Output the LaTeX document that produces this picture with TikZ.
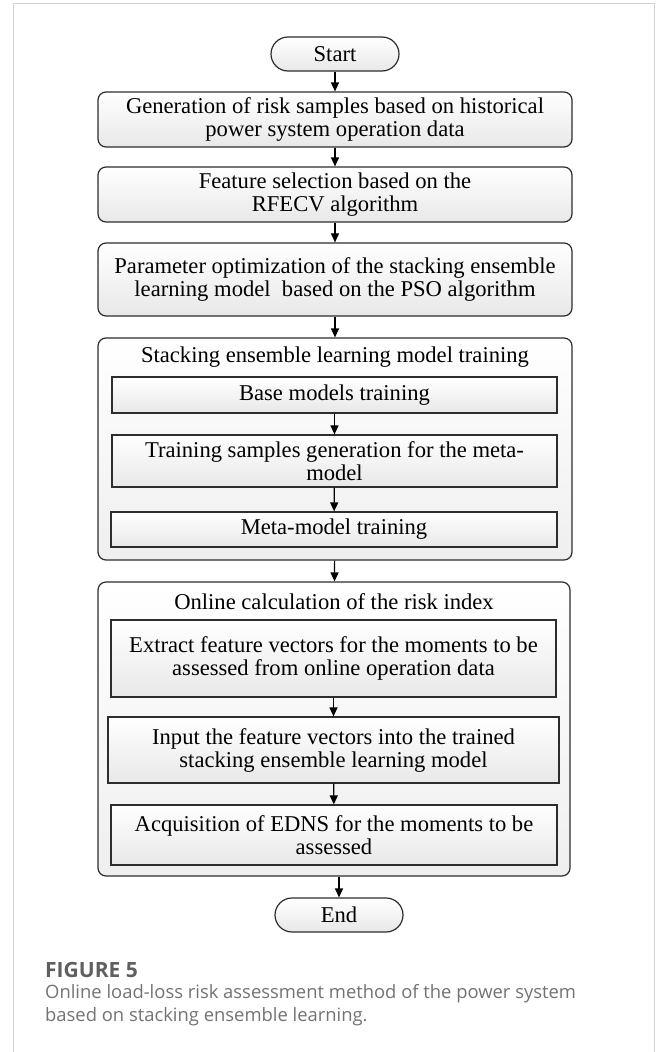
\documentclass[tikz,border=0pt]{standalone}
\usepackage{fontspec}
\setmainfont{Liberation Serif}
\newfontfamily\capfont{Open Sans}
\usetikzlibrary{arrows.meta}
\definecolor{edge}{RGB}{45,45,45}
\definecolor{shadebot}{RGB}{232,232,232}
\definecolor{framegray}{RGB}{210,210,210}
\definecolor{capgray}{RGB}{115,115,115}
\definecolor{capdark}{RGB}{95,95,95}
\tikzset{
  basebox/.style={draw=edge, line width=1.2pt, top color=white, bottom color=shadebot,
    inner sep=0pt, align=center, font=\fontsize{22.6}{23}\selectfont},
  terminal/.style={basebox, rounded corners=17pt},
  roundbox/.style={basebox, rounded corners=8pt},
  squarebox/.style={basebox},
  groupbox/.style={basebox, rounded corners=8pt, bottom color=shadebot!70},
  grouptitle/.style={inner sep=0pt, font=\fontsize{22.6}{23}\selectfont},
  flow/.style={draw=black, line width=1.2pt, -{Triangle[length=9pt,width=8pt]}},
}
\begin{document}
\begin{tikzpicture}[x=1pt,y=-1pt]
\useasboundingbox (0,0) rectangle (656,1052);
\fill[white] (0,0) rectangle (656,1052);
% card frame
\draw[framegray, line width=1pt] (13,1052) -- (13,3) -- (654,3) -- (654,1052);

% terminals and main steps
\node[terminal, minimum width=128pt, minimum height=34pt] (start) at (335,54) {Start};
\node[roundbox, minimum width=474pt, minimum height=55pt] (gen) at (335,119.5)
  {Generation of risk samples based on historical\\power system operation data};
\node[roundbox, minimum width=474pt, minimum height=55pt] (feat) at (335,194.5)
  {Feature selection based on the\\RFECV algorithm};
\node[roundbox, minimum width=474pt, minimum height=73pt] (pso) at (335,279.5)
  {Parameter optimization of the stacking ensemble\\learning model \ based on the PSO algorithm};

% stacking model training group
\node[groupbox, minimum width=474pt, minimum height=222pt] (train) at (335,449) {};
\node[grouptitle] (traint) at (335,357) {Stacking ensemble learning model training};
\node[squarebox, minimum width=445pt, minimum height=36pt] (base) at (334.5,395) {Base models training};
\node[squarebox, minimum width=445pt, minimum height=52pt] (samp) at (334.5,461)
  {Training samples generation for the meta-\\model};
\node[squarebox, minimum width=446pt, minimum height=35pt] (meta) at (334,529.5) {Meta-model training};

% online calculation group
\node[groupbox, minimum width=472pt, minimum height=294pt] (online) at (334,729) {};
\node[grouptitle] (onlinet) at (334,602) {Online calculation of the risk index};
\node[squarebox, minimum width=445pt, minimum height=77pt] (extr) at (333.5,658.5)
  {Extract feature vectors for the moments to be\\assessed from online operation data};
\node[squarebox, minimum width=451pt, minimum height=66pt] (inp) at (333.5,750)
  {Input the feature vectors into the trained\\stacking ensemble learning model};
\node[squarebox, minimum width=446pt, minimum height=60pt] (acq) at (334,835)
  {Acquisition of EDNS for the moments to be\\assessed};

\node[terminal, minimum width=128pt, minimum height=34pt] (finish) at (339,915) {End};

% connectors
\draw[flow] (start) -- (gen);
\draw[flow] (gen) -- (feat);
\draw[flow] (feat) -- (pso);
\draw[flow] (pso) -- (train);
\draw[flow] (base) -- (samp);
\draw[flow] (samp) -- (meta);
\draw[flow] (train) -- (online);
\draw[flow] (extr) -- (inp);
\draw[flow] (inp) -- (acq);
\draw[flow] (online.south -| finish) -- (finish);

% caption
\node[anchor=west, inner sep=0pt, text=capdark, font=\capfont\bfseries\fontsize{21}{24}\selectfont] (figlabel) at (45,970) {FIGURE 5};
\node[anchor=north west, inner sep=0pt, align=left, text=capgray, font=\capfont\fontsize{18.4}{23.5}\selectfont] (figtext) at (45,984)
  {Online load-loss risk assessment method of the power system\\based on stacking ensemble learning.};
\end{tikzpicture}
\end{document}
